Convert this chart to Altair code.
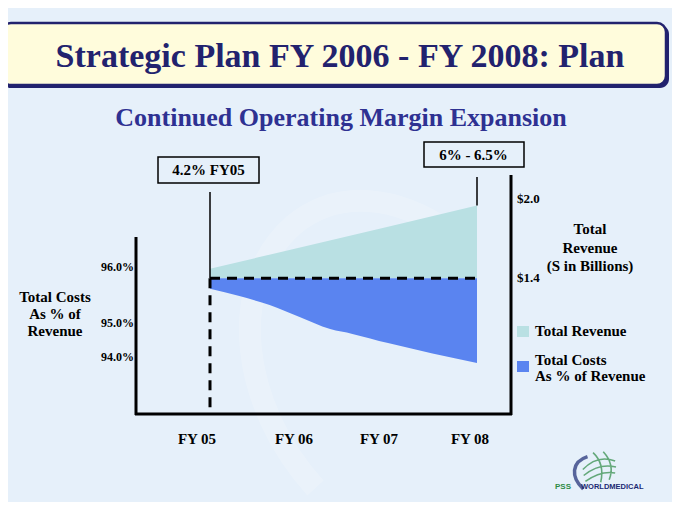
import altair as alt
import pandas as pd

# ---------------- data ----------------
years = [2005, 2006, 2007, 2008]
year_labels = ["FY 05", "FY 06", "FY 07", "FY 08"]

# Total revenue ($ billions) - upper (teal) band, based at $1.4
revenue_billions = [1.47, 1.63, 1.79, 1.95]
revenue_base = 1.4

# Total costs as % of revenue - lower (blue) band, from FY05 level down
cost_years = [2005.0, 2005.33, 2005.67, 2006.0, 2006.35, 2006.6, 2007.0, 2008.0]
cost_pct = [95.61, 95.48, 95.32, 95.11, 94.82, 94.68, 94.41, 93.82]
cost_fy05 = 95.8

cost_ticks = [96.0, 95.0, 94.0]
cost_tick_labels = ["96.0%", "95.0%", "94.0%"]
rev_ticks = [2.0, 1.4]
rev_tick_labels = ["$2.0", "$1.4"]

margin_fy05_label = "4.2% FY05"
margin_fy08_label = "6% - 6.5%"

title_text = "Strategic Plan FY 2006 - FY 2008: Plan"
subtitle_text = "Continued Operating Margin Expansion"
left_title = ["Total Costs", "As % of", "Revenue"]
right_title = ["Total", "Revenue", "(S in Billions)"]
legend_labels = [["Total Revenue"], ["Total Costs", "As % of Revenue"]]

# ---------------- styling ----------------
W, H = 664, 494
SERIF = "Liberation Serif"
SANS = "Liberation Sans"
TEAL = "#B9E0E3"
BLUE = "#5A84F0"
NAVY = "#22226E"
SUB = "#2E3192"
BG = "#E6F0FA"
CREAM = "#FFFCDC"

rev_df = pd.DataFrame({"year": years, "rev": revenue_billions, "base": revenue_base})
cost_df = pd.DataFrame({"year": cost_years, "cost": cost_pct, "top": cost_fy05})
dash_df = pd.DataFrame({"x0": [years[0]], "x1": [years[-1]], "c": [cost_fy05]})
fy05_df = pd.DataFrame({"year": [years[0]], "c": [cost_fy05], "label": [margin_fy05_label]})
fy08_df = pd.DataFrame({"year": [years[-1]], "rev": [revenue_billions[-1]], "label": [margin_fy08_label]})
cost_tick_df = pd.DataFrame({"v": cost_ticks, "label": cost_tick_labels})
rev_tick_df = pd.DataFrame({"v": rev_ticks, "label": rev_tick_labels})
xlab_df = pd.DataFrame({"year": years, "label": year_labels})
one = pd.DataFrame({"k": [0]})

x_area = alt.Scale(domain=[2005, 2008], range=[202, 469], zero=False, nice=False)
y_cost = alt.Scale(domain=[94, 95, 96], range=[349, 315, 259], zero=False, nice=False)
y_rev = alt.Scale(domain=[1.4, 2.0], range=[270, 191], zero=False, nice=False)
x_lab = alt.Scale(domain=years, range=[189, 286, 371, 462], zero=False, nice=False)


def X(field, scale):
    return alt.X(field, type="quantitative", scale=scale, axis=None)


def Y(field, scale):
    return alt.Y(field, type="quantitative", scale=scale, axis=None)


def rule(x, x2, y, y2, width=3, color="black"):
    return alt.Chart(one).mark_rule(color=color, strokeWidth=width).encode(
        x=alt.value(x), x2=alt.value(x2), y=alt.value(y), y2=alt.value(y2))


def label(text, x, y, size=15, align="center", color="black", font=SERIF,
          baseline="middle", line_height=None, weight="bold"):
    kw = dict(text=text, font=font, fontSize=size, fontWeight=weight,
              align=align, baseline=baseline, color=color)
    if line_height:
        kw["lineHeight"] = line_height
    return alt.Chart(one).mark_text(**kw).encode(x=alt.value(x), y=alt.value(y))


def box(x, x2, y, y2, fill=None, stroke="black", width=1.5, radius=0, opacity=1):
    kw = dict(stroke=stroke, strokeWidth=width, cornerRadius=radius)
    if fill:
        kw["fill"] = fill
        kw["fillOpacity"] = opacity
    else:
        kw["fillOpacity"] = 0
    return alt.Chart(one).mark_rect(**kw).encode(
        x=alt.value(x), x2=alt.value(x2), y=alt.value(y), y2=alt.value(y2))


# faint background swoosh (watermark)
swoosh_bg = alt.Chart(one).mark_point(
    shape="M0.05,1 C-0.45,0.45 -0.55,-0.35 -0.1,-0.75 C0.2,-1 0.6,-0.95 0.95,-0.7",
    size=300 ** 2, filled=False, stroke="white", strokeWidth=22, opacity=0.18,
).encode(x=alt.value(300), y=alt.value(330))

# title box
title_shadow = box(-6, 661, 17, 80, fill=NAVY, stroke=NAVY, width=0, radius=9)
title_box = box(-6, 658, 15, 77, fill=CREAM, stroke=NAVY, width=2.5, radius=9)
title = label(title_text, 332, 59, size=34, color=NAVY, baseline="alphabetic")
subtitle = label(subtitle_text, 333, 118, size=26, color=SUB, baseline="alphabetic")

# data areas
teal = alt.Chart(rev_df).mark_area(color=TEAL, opacity=1).encode(
    x=X("year", x_area), y=Y("rev", y_rev), y2="base:Q")
blue = alt.Chart(cost_df).mark_area(color=BLUE, opacity=1, interpolate="monotone").encode(
    x=X("year", x_area), y=Y("top", y_cost), y2="cost:Q")

dash_h = alt.Chart(dash_df).mark_rule(color="black", strokeWidth=3, strokeDash=[10, 7]).encode(
    x=X("x0", x_area), x2="x1:Q", y=Y("c", y_cost))
dash_v = alt.Chart(fy05_df).mark_rule(color="black", strokeWidth=3, strokeDash=[10, 7]).encode(
    x=X("year", x_area), y=Y("c", y_cost), y2=alt.value(406))
conn_fy05 = alt.Chart(fy05_df).mark_rule(color="black", strokeWidth=1.5).encode(
    x=X("year", x_area), y=Y("c", y_cost), y2=alt.value(184))
conn_fy08 = alt.Chart(fy08_df).mark_rule(color="black", strokeWidth=1.5).encode(
    x=X("year", x_area), y=Y("rev", y_rev), y2=alt.value(169))

# annotation boxes
box1 = box(150, 251, 149, 175)
box2 = box(416, 516, 134, 159)
box1_text = alt.Chart(fy05_df).mark_text(
    font=SERIF, fontSize=15, fontWeight="bold", align="center", baseline="middle", dx=-1.5
).encode(x=X("year", x_area), y=alt.value(162), text="label:N")
box2_text = alt.Chart(fy08_df).mark_text(
    font=SERIF, fontSize=15, fontWeight="bold", align="center", baseline="middle", dx=-3.5
).encode(x=X("year", x_area), y=alt.value(147), text="label:N")

# frame
left_axis = rule(128, 128, 229, 407)
bottom_axis = rule(127, 504, 406, 406)
right_axis = rule(503, 503, 167, 407)

# tick labels
cost_labels = alt.Chart(cost_tick_df).mark_text(
    font=SERIF, fontSize=12, fontWeight="bold", align="right", baseline="middle"
).encode(x=alt.value(126), y=Y("v", y_cost), text="label:N")
rev_labels = alt.Chart(rev_tick_df).mark_text(
    font=SERIF, fontSize=13, fontWeight="bold", align="left", baseline="middle"
).encode(x=alt.value(509), y=Y("v", y_rev), text="label:N")
x_labels = alt.Chart(xlab_df).mark_text(
    font=SERIF, fontSize=15, fontWeight="bold", align="center", baseline="middle"
).encode(x=X("year", x_lab), y=alt.value(431), text="label:N")

# multi-line labels: y is the centre of the first line
left_title_t = label(left_title, 47, 289, size=15, line_height=17)
right_title_t = label(right_title, 582, 221, size=15, line_height=18.5)

# legend
leg_sq1 = box(509, 521, 318, 329, fill=TEAL, stroke=TEAL, width=0)
leg_sq2 = box(509, 521, 353, 364, fill=BLUE, stroke=BLUE, width=0)
leg_t1 = label(legend_labels[0][0], 527, 323, size=15, align="left")
leg_t2 = label(legend_labels[1], 527, 352, size=15, align="left", line_height=15.5)

# logo
logo_globe = alt.Chart(one).mark_point(
    shape=("M-0.95,0.15 Q-0.1,-0.75 0.95,-0.35 "
           "M-0.9,0.5 Q0,-0.25 1,0 "
           "M-0.8,0.85 Q0.1,0.2 0.95,0.35 "
           "M-0.35,-0.85 Q0.35,-0.2 0.1,0.9 "
           "M0.25,-0.9 Q0.95,-0.15 0.6,0.75"),
    size=34 ** 2, filled=False, stroke="#2E8B45", strokeWidth=1.6,
).encode(x=alt.value(591), y=alt.value(459))
logo_swoosh = alt.Chart(one).mark_point(
    shape="M0.25,1 C-0.5,0.3 -0.45,-0.6 0.5,-0.9",
    size=34 ** 2, filled=False, stroke="#1B2A73", strokeWidth=3.5,
).encode(x=alt.value(571), y=alt.value(464))
logo_pss = label("PSS", 547, 481, size=8, align="left", color="#2E8B45", font=SANS,
                 baseline="alphabetic")
logo_wm = label("WORLDMEDICAL", 573, 481, size=7.5, align="left", color="#1B2A73",
                font=SANS, baseline="alphabetic")

chart = alt.layer(
    swoosh_bg,
    title_shadow, title_box, title, subtitle,
    teal, blue,
    conn_fy05, conn_fy08, dash_h, dash_v,
    box1, box2, box1_text, box2_text,
    left_axis, bottom_axis, right_axis,
    cost_labels, rev_labels, x_labels,
    left_title_t, right_title_t,
    leg_sq1, leg_sq2, leg_t1, leg_t2,
    logo_globe, logo_swoosh, logo_pss, logo_wm,
).resolve_scale(
    x="independent", y="independent"
).properties(
    width=W, height=H, autosize=alt.AutoSizeParams(type="none"), padding=0,
    background=BG,
).configure_view(strokeWidth=0)

chart.save("out.html", embed_options={"renderer": "svg", "actions": False})
